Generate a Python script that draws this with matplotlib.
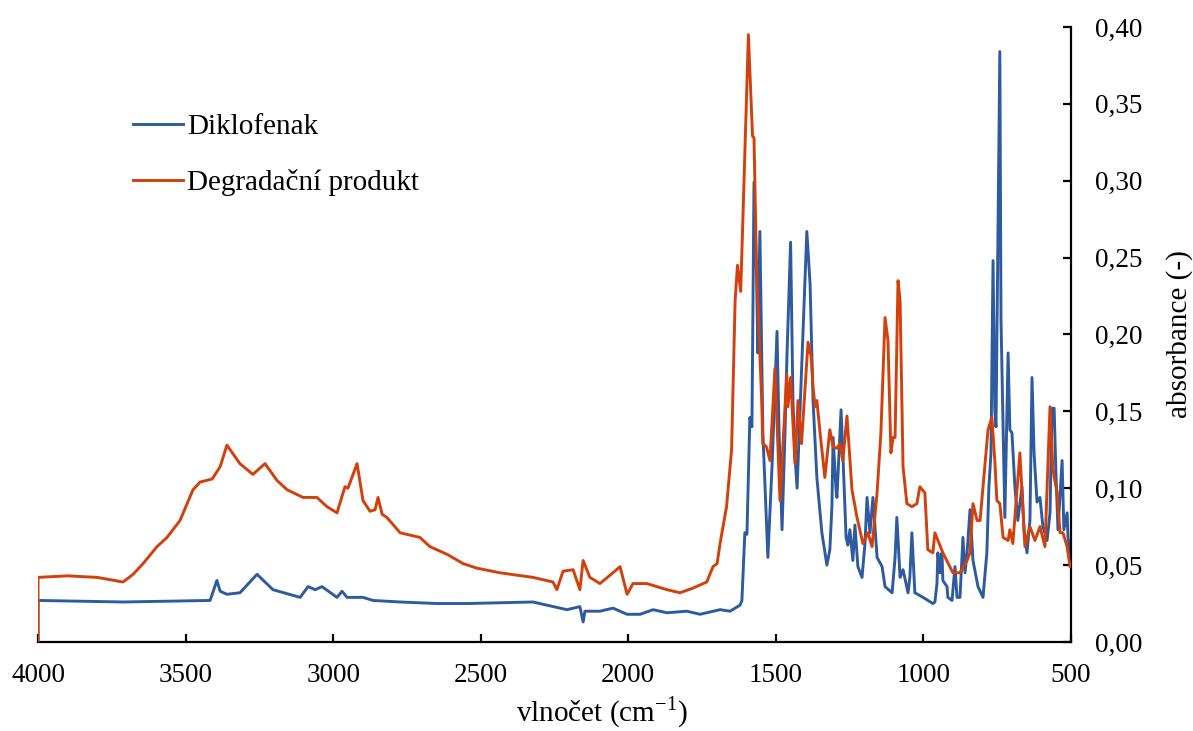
import matplotlib
matplotlib.use("Agg")
import matplotlib.pyplot as plt
from matplotlib.ticker import FuncFormatter, MultipleLocator

#==================Data============================================
# Diklofenak: wavenumber (cm-1) and absorbance
diklo_wn = [4000, 4000, 3712, 3417, 3394, 3383, 3360, 3316, 3258, 3204, 3112, 3085, 3061, 3038,
            2987, 2970, 2953, 2899, 2865, 2773, 2648, 2546, 2323, 2208, 2164, 2153, 2147, 2096,
            2052, 2004, 1960, 1916, 1869, 1801, 1757, 1689, 1655, 1621, 1615, 1605, 1598, 1588,
            1581, 1574, 1565, 1561, 1554, 1544, 1527, 1513, 1496, 1489, 1479, 1469, 1462, 1450,
            1442, 1435, 1428, 1395, 1384, 1374, 1361, 1344, 1327, 1317, 1310, 1306, 1296, 1293,
            1279, 1273, 1262, 1256, 1249, 1239, 1232, 1222, 1208, 1198, 1191, 1181, 1171, 1157,
            1140, 1130, 1106, 1096, 1090, 1079, 1069, 1052, 1046, 1039, 1029, 1001, 968, 961,
            954, 951, 944, 937, 934, 920, 917, 903, 893, 886, 876, 866, 859, 852, 842, 832,
            815, 798, 785, 778, 771, 764, 758, 754, 741, 737, 724, 713, 707, 700, 690, 680,
            666, 659, 649, 639, 632, 625, 615, 605, 595, 581, 571, 564, 557, 551, 544, 530,
            524, 513, 510, 503, 500]
diklo_abs = [0.000, 0.027, 0.026, 0.027, 0.040, 0.033, 0.031, 0.032, 0.044, 0.034, 0.029, 0.036, 0.034, 0.036,
             0.029, 0.033, 0.029, 0.029, 0.027, 0.026, 0.025, 0.025, 0.026, 0.021, 0.023, 0.013, 0.020, 0.020,
             0.022, 0.018, 0.018, 0.021, 0.019, 0.020, 0.018, 0.021, 0.020, 0.024, 0.027, 0.071, 0.070, 0.146,
             0.140, 0.299, 0.235, 0.188, 0.267, 0.136, 0.055, 0.114, 0.202, 0.136, 0.073, 0.136, 0.188, 0.260,
             0.157, 0.120, 0.100, 0.267, 0.233, 0.157, 0.107, 0.071, 0.050, 0.060, 0.088, 0.133, 0.099, 0.094,
             0.151, 0.123, 0.068, 0.063, 0.073, 0.053, 0.076, 0.049, 0.042, 0.064, 0.094, 0.071, 0.094, 0.055,
             0.049, 0.036, 0.032, 0.055, 0.081, 0.042, 0.047, 0.032, 0.042, 0.071, 0.032, 0.029, 0.025, 0.026,
             0.038, 0.058, 0.045, 0.058, 0.040, 0.036, 0.029, 0.027, 0.049, 0.029, 0.029, 0.068, 0.045, 0.058, 0.086, 0.053,
             0.036, 0.029, 0.058, 0.101, 0.123, 0.248, 0.150, 0.140, 0.384, 0.209, 0.081, 0.188, 0.138, 0.136, 0.101, 0.079,
             0.101, 0.073, 0.058, 0.079, 0.172, 0.123, 0.091, 0.094, 0.075, 0.066, 0.084, 0.152, 0.152, 0.110, 0.073, 0.118,
             0.073, 0.084, 0.068, 0.058, 0.060]

# Degradacni produkt
degr_wn = [4000, 4000, 3900, 3800, 3712, 3678, 3644, 3597, 3563, 3519, 3475, 3451, 3410, 3383,
           3360, 3316, 3272, 3231, 3190, 3156, 3102, 3055, 3021, 2987, 2960, 2950, 2919, 2899,
           2875, 2858, 2848, 2834, 2818, 2773, 2706, 2672, 2614, 2560, 2513, 2435, 2323, 2255,
           2242, 2221, 2187, 2164, 2153, 2130, 2096, 2052, 2028, 2004, 1984, 1937, 1869, 1825,
           1781, 1734, 1713, 1699, 1689, 1667, 1650, 1638, 1630, 1619, 1593, 1588, 1579, 1574,
           1565, 1561, 1548, 1544, 1532, 1520, 1503, 1486, 1463, 1459, 1450, 1435, 1425, 1413,
           1391, 1380, 1374, 1367, 1361, 1350, 1334, 1317, 1306, 1293, 1283, 1273, 1259, 1242,
           1225, 1205, 1188, 1174, 1157, 1144, 1130, 1120, 1110, 1103, 1096, 1086, 1079, 1069,
           1056, 1039, 1022, 1012, 995, 985, 968, 961, 934, 900, 876, 852, 842, 832, 818, 808,
           791, 781, 768, 758, 751, 741, 730, 713, 707, 697, 673, 656, 639, 622, 605, 588,
           571, 561, 547, 537, 527, 513, 503, 500]
degr_abs = [0.000, 0.042, 0.043, 0.042, 0.039, 0.044, 0.051, 0.062, 0.068, 0.079, 0.099, 0.104, 0.106, 0.114,
            0.128, 0.116, 0.109, 0.116, 0.105, 0.099, 0.094, 0.094, 0.088, 0.084, 0.101, 0.100, 0.116, 0.092,
            0.085, 0.086, 0.094, 0.083, 0.081, 0.071, 0.068, 0.062, 0.057, 0.051, 0.048, 0.045, 0.042, 0.039,
            0.034, 0.046, 0.047, 0.034, 0.053, 0.042, 0.038, 0.045, 0.049, 0.031, 0.038, 0.038, 0.034, 0.032,
            0.035, 0.039, 0.049, 0.051, 0.064, 0.088, 0.125, 0.222, 0.245, 0.228, 0.395, 0.372, 0.329, 0.328,
            0.238, 0.222, 0.157, 0.129, 0.127, 0.118, 0.178, 0.092, 0.174, 0.153, 0.172, 0.116, 0.157, 0.129,
            0.195, 0.185, 0.166, 0.153, 0.157, 0.136, 0.107, 0.138, 0.127, 0.126, 0.129, 0.118, 0.147, 0.099,
            0.081, 0.064, 0.071, 0.062, 0.097, 0.136, 0.211, 0.196, 0.123, 0.133, 0.133, 0.235, 0.222, 0.114,
            0.090, 0.088, 0.090, 0.101, 0.097, 0.060, 0.058, 0.071, 0.058, 0.045, 0.045, 0.053, 0.058, 0.090, 0.079, 0.079,
            0.116, 0.138, 0.146, 0.118, 0.092, 0.090, 0.068, 0.066, 0.073, 0.064, 0.123, 0.062, 0.075, 0.066, 0.075, 0.062,
            0.153, 0.112, 0.097, 0.071, 0.071, 0.062, 0.049, 0.050]

x_ticks = [4000, 3500, 3000, 2500, 2000, 1500, 1000, 500]

BLUE = "#2E5AA0"
ORANGE = "#D3400C"

#==================Plot===================
plt.rcParams['font.family'] = ['Liberation Serif', 'DejaVu Serif']
plt.rcParams['mathtext.fontset'] = 'custom'
plt.rcParams['mathtext.rm'] = 'Liberation Serif'

fig = plt.figure(figsize=(11.93, 7.31), dpi=100)
ax = fig.add_axes([0.0319, 0.1218, 0.8658, 0.8413])

ax.plot(degr_wn, degr_abs, color=ORANGE, lw=2.1, label="Degradační produkt", zorder=3)
ax.plot(diklo_wn, diklo_abs, color=BLUE, lw=2.1, label="Diklofenak", zorder=2)

ax.set_xlim(4000, 500)
ax.set_ylim(0, 0.40)
ax.set_xticks(x_ticks)
ax.yaxis.set_major_locator(MultipleLocator(0.05))
ax.yaxis.set_major_formatter(FuncFormatter(lambda v, p: ("%.2f" % v).replace(".", ",")))

ax.spines['top'].set_visible(False)
ax.spines['left'].set_visible(False)
ax.spines['bottom'].set_linewidth(1.6)
ax.spines['right'].set_linewidth(1.6)
ax.yaxis.tick_right()
ax.yaxis.set_label_position('right')
ax.tick_params(axis='both', direction='in', length=6, width=1.6, labelsize=19.5)
ax.tick_params(axis='y', pad=17)
ax.tick_params(axis='x', pad=15)

ax.set_xlabel(r"vlnočet (cm$^{\mathregular{-1}}$)", fontsize=21)
ax.xaxis.set_label_coords(0.546, -0.086)
ax.set_ylabel("absorbance (-)", fontsize=21)
ax.yaxis.set_label_coords(1.092, 0.501)

handles, labels = ax.get_legend_handles_labels()
ax.legend(handles[::-1], labels[::-1], loc='upper left', bbox_to_anchor=(0.1115, 0.845),
          bbox_transform=fig.transFigure, frameon=False, fontsize=21, handlelength=1.7,
          handletextpad=0.15, labelspacing=1.0, borderpad=0, borderaxespad=0)

plt.savefig("out.png", dpi=100)
